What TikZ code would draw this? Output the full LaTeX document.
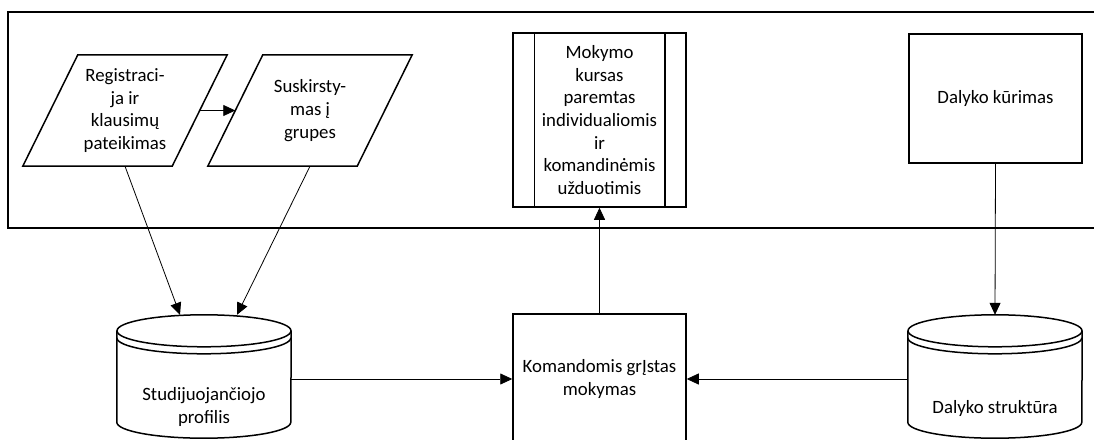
\documentclass[tikz,border=0pt]{standalone}
\usepackage{fontspec}
\setmainfont{Carlito}
\usetikzlibrary{arrows.meta,calc}

% Data store drawn as a drum with a double rim, built on a plain node #1
\newcommand\drumshape[1]{%
  \draw[outline,fill=white] ($(#1.north west)+(0,16)$) -- ($(#1.south west)+(0,-16)$)
    arc[start angle=180,end angle=360,x radius=87pt,y radius=16pt]
    -- ($(#1.north east)+(0,16)$);
  \draw[outline] ($(#1.north)+(0,16)$) ellipse[x radius=87pt,y radius=16pt];
  \draw[outline] ($(#1.north west)+(0,23)$)
    arc[start angle=180,end angle=360,x radius=87pt,y radius=16pt];
}

\begin{document}
\begin{tikzpicture}[x=1pt,y=-1pt,
  font=\fontsize{18.8}{22.7}\selectfont,
  outline/.style={draw=black,line width=1.5pt},
  proc/.style={outline,rectangle,minimum width=173pt,align=center,inner sep=0pt},
  paratext/.style={rectangle,minimum width=149pt,minimum height=111pt,align=center,inner sep=0pt},
  store/.style={rectangle,minimum width=174pt,minimum height=123pt,inner sep=0pt},
  storetext/.style={align=center,inner sep=0pt},
  flow/.style={draw=black,line width=0.8pt,-{Triangle[length=12pt,width=11pt]}},
]
\useasboundingbox (0,0) rectangle (1094,439);
\clip (0,0) rectangle (1094,439);

% upper lane
\draw[outline] (8,12) rectangle (1120,228);

% input parallelograms
\node[paratext] (reg) at (125,110.5) {Registraci-\\ja ir\\klausimų\\pateikimas};
\node[paratext] (grp) at (310,110.5) {Suskirsty-\\mas į\\grupes};
\foreach \p in {reg,grp}{
  \draw[outline] ($(\p.south west)+(-27.5,0)$) -- ($(\p.south east)+(-27.5,0)$)
    -- ($(\p.north east)+(27.5,0)$) -- ($(\p.north west)+(27.5,0)$) -- cycle;
}

% predefined process
\node[proc,minimum height=174pt] (course) at (599.5,120)
  {Mokymo\\kursas\\paremtas\\individualiomis\\ir\\komandinėmis\\užduotimis};
\draw[outline] ([xshift=22pt]course.north west) -- ([xshift=22pt]course.south west);
\draw[outline] ([xshift=-22pt]course.north east) -- ([xshift=-22pt]course.south east);

% processes
\node[proc,minimum height=129pt] (subj) at (995.5,98.5) {Dalyko kūrimas};
\node[proc,minimum height=130pt] (team) at (599.5,379) {Komandomis grĮstas\\mokymas};

% data stores
\node[store] (prof) at (204,376.5) {};
\drumshape{prof}
\node[storetext] (proftext) at ($(prof.center)+(0,30.5)$) {Studijuojančiojo\\profilis};
\node[store] (struct) at (995,376.5) {};
\drumshape{struct}
\node[storetext] (structtext) at ($(struct.center)+(0,31.5)$) {Dalyko struktūra};

% flows
\draw[flow] (reg.east) -- (grp.west);
\draw[flow] (reg.south) -- ([xshift=-24pt]prof.north);
\draw[flow] (grp.south) -- ([xshift=33pt]prof.north);
\draw[flow] (team.north) -- (course.south);
\draw[flow] (subj.south) -- (struct.north);
\draw[flow] (prof.east |- team.west) -- (team.west);
\draw[flow] (struct.west |- team.east) -- (team.east);
\end{tikzpicture}
\end{document}
